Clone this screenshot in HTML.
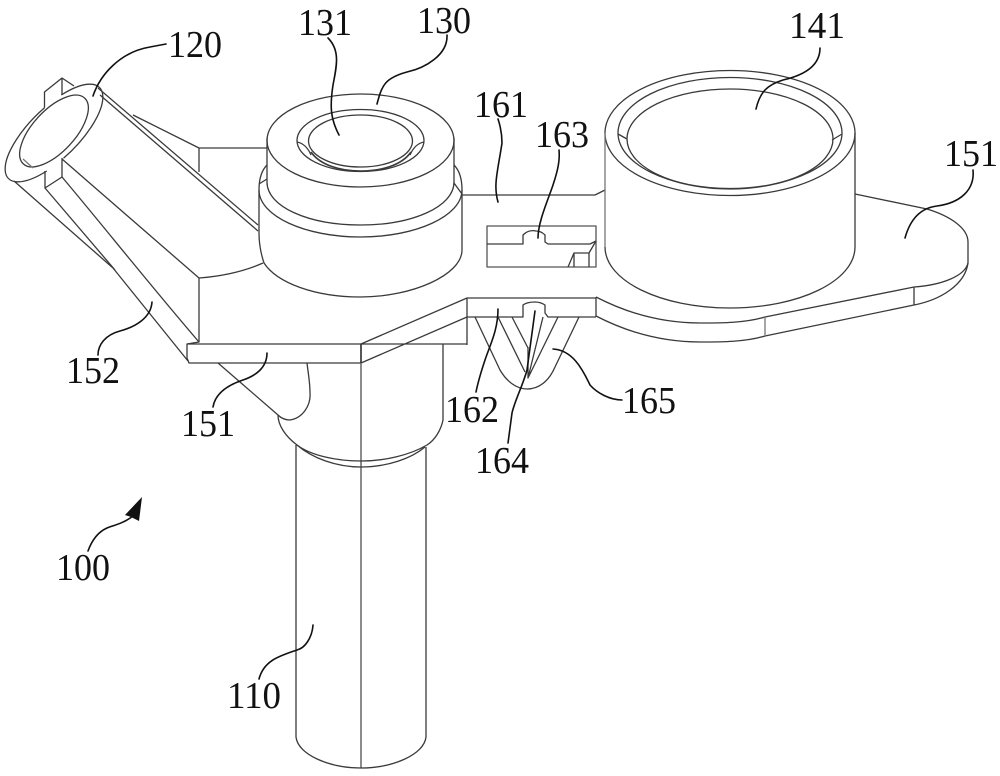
<!DOCTYPE html>
<html><head><meta charset="utf-8"><style>
html,body{margin:0;padding:0;background:#fff;width:1000px;height:776px;overflow:hidden}
svg{display:block}
text{font-family:"Liberation Serif",serif;font-size:38px;fill:#111}
</style></head><body>
<svg width="1000" height="776" viewBox="0 0 1000 776" xmlns="http://www.w3.org/2000/svg">
<g fill="none" stroke="#3a3a3a" stroke-width="1.3" stroke-linejoin="round">
<!-- side tube -->
<path d="M44.5,107.7 V92 L62,78 L74,86 M62,78 V95"/>
<path d="M61.3,95 A64,25 -45 0 1 63.5,158.3"/>
<path d="M46.7,171 A64,25 -45 0 1 44.5,107.7"/>
<ellipse cx="54" cy="131" rx="45" ry="21" transform="rotate(-47 54 131)"/>
<path d="M23,159 L33,168" stroke="#777"/>
<path d="M62,158 V177 L45,188 V171"/>
<path d="M98,88 L258,225 M100,95 L258,231"/>
<path d="M133,115 L199,148 V172 M199,148 H267"/>
<path d="M62,159 L199,278 V342 M199,278 C225,276 245,271 263,263"/>
<path d="M62,177 C100,222 150,285 199,342 L187,344 M45,188 L115,270"/>
<path d="M14,181 L113,268 L188,361"/>
<!-- center collar -->
<ellipse cx="360.5" cy="140.5" rx="93.5" ry="46.5"/>
<path d="M267,138 V182 C267,207 309,225 360.5,225 C412,225 454,207 454,182 V138"/>
<path d="M267,165 C262,170 259,178 259,190 C259,216 305,237 360.5,237 C416,237 462,216 462,190 C462,178 459,170 454,165"/>
<path d="M259,190 V233 C259,244 261,254 264,263 C277,283 315,297 360.5,297 C412,297 462,275 462,250 V190"/>
<path d="M259,184 L267,179 M454,183 L462,194"/>
<ellipse cx="360.5" cy="140.5" rx="63.5" ry="31"/>
<ellipse cx="360.5" cy="141" rx="52" ry="26"/>
<path d="M311,152 C320,165 340,171 360.5,171 C382,171 402,165 411,152" stroke-width="1.6"/>
<path d="M297,142 C303,143 308,148 311,155 M424,142 C418,143 413,148 410,155"/>
<!-- center plate -->
<path d="M462,195 H595 L605,190"/>
<path d="M487,226 H596 V267 H487 Z" stroke="#555"/>
<path d="M487,244 H523 V235 C527,231 532,230 536,231 C540,231 543,233 545,235 V242 L548,244 H590 L596,241"/>
<path d="M568,267 L574,253 H589 V267 M574,253 V267 M589,253 L596,241"/>
<path d="M467,298 H596 M467,317 H523 V305 C527,302 532,302 535,302 C539,302 542,303 545,305 V313 L548,317 H596"/>
<path d="M361,344 L467,298 V345 M361,363 L467,317 M361,344 H467"/>
<path d="M187,344 H361 V363 H189 L187,358 Z"/>
<path d="M361,363 V768" stroke="#666" stroke-width="1.5"/>
<path d="M361,344 V363" stroke="#333" stroke-width="1.5"/>
<!-- clip fins -->
<path d="M475,317 L500,370 C507,382 517,389 527,389 C539,389 549,381 555,367 L579,317"/>
<path d="M498,317 L525,372 M512,317 L528,348 M543,317 L528,378 L558,317 M528,347 V378"/>
<!-- neck -->
<path d="M218,363 L278,415 C282,419 286,420 290,420 C303,418 311,405 310,393 C310,382 308,372 307,363"/>
<path d="M443,344 V420 C441,430 435,440 427,445 C410,455 385,461 361,461 C335,461 310,455 297,445 C285,436 278,425 278,415"/>
<path d="M297,445 C312,458 336,467 361,467 C388,467 412,458 425,447"/>
<!-- shaft -->
<path d="M296,445 V737 C298,755 330,768 361,768 C392,768 424,755 426,737 V447"/>
<!-- cup -->
<ellipse cx="730" cy="133" rx="125" ry="62.5"/>
<ellipse cx="730" cy="133" rx="112" ry="55.5"/>
<ellipse cx="730" cy="139" rx="103" ry="50"/>
<path d="M618,134 L627,139 M842,134 L832,140"/>
<path d="M605,133 V247" stroke="#777"/>
<path d="M855,133 V247"/>
<path d="M605,247 C605,281 661,308 730,308 C799,308 855,281 855,247"/>
<!-- right plate -->
<path d="M855,194 L927,209 C950,216 968,228 968,242 V263 C965,276 942,285 914,287 M914,287 L765,317 C745,323 722,323 700,323 C660,323 625,312 596,297"/>
<path d="M968,263 C965,285 940,300 914,305 L765,336 C745,342 722,342 700,342 C660,342 625,331 596,316"/>
<path d="M914,287 V305"/>
<path d="M765,317 V336" stroke="#777"/>
<path d="M596,297 V317"/>
</g>
<g fill="none" stroke="#111" stroke-width="1.6" stroke-linecap="round">
<path d="M93,96 C100,75 120,52 150,47 L166,44"/>
<path d="M339,135 C330,118 330,105 333,85 C337,65 340,50 328,38"/>
<path d="M377,104 C382,85 385,78 407,72 C425,68 448,55 447,35"/>
<path d="M756,109 C760,92 767,85 783,80 C805,75 820,65 820,48"/>
<path d="M498,202 C493,185 498,170 502,143 C502,133 500,125 498,119"/>
<path d="M538,238 C538,222 548,200 553,185 C558,170 560,160 559,150"/>
<path d="M905,238 C910,220 920,208 937,206 C960,203 975,190 973,170"/>
<path d="M152,302 C151,318 135,327 120,331 C105,335 98,345 98,355"/>
<path d="M267,353 C267,368 255,376 243,380 C225,386 215,395 213,407"/>
<path d="M498,309 C498,330 490,345 485,360 C481,372 478,382 476,392"/>
<path d="M535,311 L527,370 C523,385 515,400 512,413 L508,443"/>
<path d="M553,349 C572,350 582,368 590,385 C597,393 610,400 622,400"/>
<path d="M313,625 C312,638 305,648 297,650 C280,656 264,660 259,679"/>
<path d="M88,551 C92,540 98,532 107,528 C115,525 124,523 133,516"/>
</g>
<path d="M142,497 L125,515 L131,517 L139,521 Z" fill="#111"/>
<text x="168" y="57" textLength="54" lengthAdjust="spacingAndGlyphs">120</text>
<text x="298" y="35" textLength="54" lengthAdjust="spacingAndGlyphs">131</text>
<text x="417" y="33" textLength="54" lengthAdjust="spacingAndGlyphs">130</text>
<text x="789" y="38" textLength="56" lengthAdjust="spacingAndGlyphs">141</text>
<text x="474" y="117" textLength="54" lengthAdjust="spacingAndGlyphs">161</text>
<text x="535" y="147" textLength="54" lengthAdjust="spacingAndGlyphs">163</text>
<text x="944" y="166" textLength="54" lengthAdjust="spacingAndGlyphs">151</text>
<text x="66" y="383" textLength="54" lengthAdjust="spacingAndGlyphs">152</text>
<text x="181" y="436" textLength="54" lengthAdjust="spacingAndGlyphs">151</text>
<text x="445" y="422" textLength="54" lengthAdjust="spacingAndGlyphs">162</text>
<text x="475" y="473" textLength="54" lengthAdjust="spacingAndGlyphs">164</text>
<text x="622" y="413" textLength="54" lengthAdjust="spacingAndGlyphs">165</text>
<text x="56" y="580" textLength="54" lengthAdjust="spacingAndGlyphs">100</text>
<text x="227" y="708" textLength="54" lengthAdjust="spacingAndGlyphs">110</text>
</svg>
</body></html>
